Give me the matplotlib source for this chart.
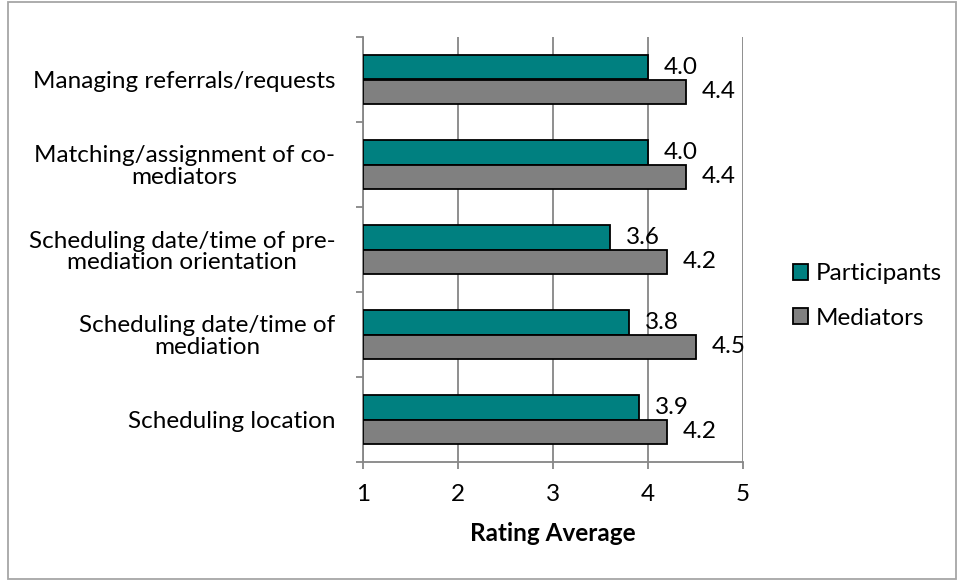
import numpy as np
import matplotlib.pyplot as plt
from matplotlib.patches import Rectangle

plt.rcParams['font.family'] = ['Lato', 'DejaVu Sans']

categories = [
    "Managing referrals/requests",
    "Matching/assignment of co-\nmediators",
    "Scheduling date/time of pre-\nmediation orientation",
    "Scheduling date/time of\nmediation",
    "Scheduling location",
]
participants = [4.0, 4.0, 3.6, 3.8, 3.9]
mediators = [4.4, 4.4, 4.2, 4.5, 4.2]
base = 1

teal = "#008080"
grey = "#808080"
axis_col = "#868686"
fs = 17.5

W, H = 958, 581
fig = plt.figure(figsize=(W / 100, H / 100), dpi=100)
ax = fig.add_axes([363 / W, 1 - 462 / H, 380 / W, 425 / H])

y = np.arange(len(categories))
h = 0.294

p_vals = np.array(participants)
m_vals = np.array(mediators)
ax.barh(y - h / 2, p_vals - base, height=h, left=base, color=teal,
        edgecolor="black", linewidth=1.3, label="Participants", zorder=3)
ax.barh(y + h / 2, m_vals - base, height=h, left=base, color=grey,
        edgecolor="black", linewidth=1.3, label="Mediators", zorder=3)

# value labels just right of each bar end
for yy, v in zip(y - h / 2, p_vals):
    ax.annotate(f"{v:.1f}", (v, yy), xytext=(16, 0), textcoords="offset pixels",
                ha="left", va="center", fontsize=fs)
for yy, v in zip(y + h / 2, m_vals):
    ax.annotate(f"{v:.1f}", (v, yy), xytext=(16, 0), textcoords="offset pixels",
                ha="left", va="center", fontsize=fs)

ax.set_xlim(1, 5)
ax.set_ylim(len(categories) - 0.5, -0.5)
ax.set_xticks([1, 2, 3, 4, 5])
ax.set_yticks(y)
ax.set_yticklabels(categories, fontsize=fs, multialignment="center",
                   linespacing=1.05)
ax.set_yticks(np.arange(len(categories) + 1) - 0.5, minor=True)
ax.tick_params(axis="y", which="major", length=0, pad=20)
ax.tick_params(axis="y", which="minor", length=5, width=1.3, color=axis_col)
ax.tick_params(axis="x", length=5, width=1.3, color=axis_col, pad=11, labelsize=fs)

ax.grid(axis="x", color=axis_col, linewidth=1.3, zorder=0)
for s in ["top", "right"]:
    ax.spines[s].set_visible(False)
for s in ["left", "bottom"]:
    ax.spines[s].set_color(axis_col)
    ax.spines[s].set_linewidth(1.3)

ax.set_xlabel("Rating Average", fontsize=fs, fontweight="bold", labelpad=12)

fig.legend(loc="center left", bbox_to_anchor=(793 / W, 1 - 296 / H), frameon=False,
           fontsize=fs, borderpad=0, borderaxespad=0, handlelength=0.62,
           handleheight=0.62, handletextpad=0.3, labelspacing=0.95)

fig.patches.append(Rectangle((8 / W, 2 / H), 1 - 10 / W, 1 - 4 / H, transform=fig.transFigure,
                             fill=False, edgecolor="#a6a6a6", linewidth=1.3))

fig.savefig("out.png", dpi=100)
